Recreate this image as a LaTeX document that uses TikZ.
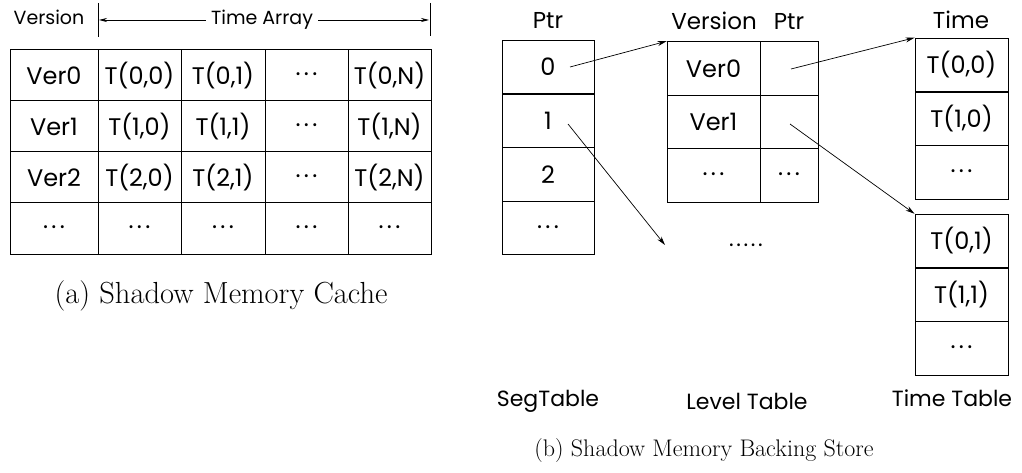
\documentclass[tikz,border=0pt]{standalone}
\usepackage{fontspec}
\setsansfont{Poppins}
\usetikzlibrary{arrows.meta}
\newcommand{\mdots}{\raisebox{0.2ex}{.\kern0.14em.\kern0.14em.}}
\tikzset{
  cell/.style={draw, line width=1pt, inner sep=0pt, font=\sffamily\fontsize{24}{28}\selectfont},
  hdr/.style={inner sep=0pt, font=\sffamily\fontsize{23}{26}\selectfont},
  smallhdr/.style={inner sep=0pt, font=\sffamily\fontsize{19}{22}\selectfont},
  lbl/.style={inner sep=0pt, font=\sffamily\fontsize{22}{26}\selectfont},
  captext/.style={inner sep=0pt, font=\fontsize{24}{28}\selectfont},
  ptr/.style={-{Stealth[length=9pt,width=5pt]}, line width=0.7pt},
}
\begin{document}
\begin{tikzpicture}[x=1pt,y=-1pt]
\useasboundingbox (0,0) rectangle (1022,473);
% ---------- (a) ----------
\node[smallhdr] (verhdr) at (49,17) {Version};
\coordinate (t1a) at (98,3); \coordinate (t1b) at (98,37);
\coordinate (t2a) at (430,3); \coordinate (t2b) at (430,36);
\draw[line width=0.8pt] (t1a) -- (t1b);
\draw[line width=0.8pt] (t2a) -- (t2b);
\node[smallhdr] (tarr) at (262,20) {Time Array};
\coordinate (al) at (99,20); \coordinate (ar) at (429,20);
\draw[ptr, -{Stealth[length=8pt,width=4pt]}] (tarr.west) ++(-5,0) coordinate (tl) -- (al);
\draw[ptr, -{Stealth[length=8pt,width=4pt]}] (tarr.east) ++(5,0) coordinate (tr) -- (ar);
% columns 10,98,181,265,348,431 ; rows 50,101,152,203,254
\foreach \r/\y/\a/\b/\c/\d/\e in {
  0/75.5/Ver0/{T(0,0)}/{T(0,1)}/\mdots/{T(0,N)},
  1/126.5/Ver1/{T(1,0)}/{T(1,1)}/\mdots/{T(1,N)},
  2/177.5/Ver2/{T(2,0)}/{T(2,1)}/\mdots/{T(2,N)},
  3/228.5/\mdots/\mdots/\mdots/\mdots/\mdots}{
  \node[cell, minimum width=88pt, minimum height=51pt] (a\r0) at (54,\y) {\a};
  \node[cell, minimum width=83pt, minimum height=51pt] (a\r1) at (139.5,\y) {\b};
  \node[cell, minimum width=84pt, minimum height=51pt] (a\r2) at (223,\y) {\c};
  \node[cell, minimum width=83pt, minimum height=51pt] (a\r3) at (306.5,\y) {\d};
  \node[cell, minimum width=83pt, minimum height=51pt] (a\r4) at (389.5,\y) {\e};
}
\node[captext, font=\fontsize{30.5}{34}\selectfont] (capa) at (221,296) {(a) Shadow Memory Cache};
% ---------- (b) ----------
% SegTable x 502-594, rows 40,94,148,201,255
\node[hdr] (segh) at (548,20) {Ptr};
\foreach \r/\y/\t in {0/67/0, 1/121/1, 2/174.5/2, 3/228/\mdots}{
  \node[cell, minimum width=92pt, minimum height=53.5pt] (s\r) at (548,\y) {\t};
}
% Level table x 667-760-818, rows 42,95,149,202
\node[hdr] (lvh1) at (714,21) {Version};
\node[hdr] (lvh2) at (789,21) {Ptr};
\foreach \r/\y/\t/\u in {0/68.5/Ver0/{}, 1/122/Ver1/{}, 2/175.5/\mdots/\mdots}{
  \node[cell, minimum width=93pt, minimum height=53.5pt] (l\r) at (713.5,\y) {\t};
  \node[cell, minimum width=58pt, minimum height=53.5pt] (p\r) at (789,\y) {\u};
}
\node[lbl, anchor=base] (ldots) at (746,246) {.\kern0.12em.\kern0.12em.\kern0.12em.\kern0.12em.};
% Time tables x 915-1008
\node[hdr] (timeh) at (961,20) {Time};
\foreach \r/\y/\t in {0/65/{T(0,0)}, 1/119/{T(1,0)}, 2/172.5/\mdots}{
  \node[cell, minimum width=93pt, minimum height=53.5pt] (ta\r) at (961.5,\y) {\t};
}
\foreach \r/\y/\t in {0/241/{T(0,1)}, 1/295/{T(1,1)}, 2/348.5/\mdots}{
  \node[cell, minimum width=93pt, minimum height=53.5pt] (tb\r) at (961.5,\y) {\t};
}
% pointers
\coordinate (s0p) at (570,67); \coordinate (s1p) at (568,124);
\coordinate (p0p) at (791,69); \coordinate (p1p) at (790,124);
\coordinate (dotsend) at (665,245);
\draw[ptr] (s0p) -- (l0.north west);
\draw[ptr] (s1p) -- (dotsend);
\draw[ptr] (p0p) -- (ta0.north west);
\draw[ptr] (p1p) -- (tb0.north west);
% labels
\node[lbl] (segl) at (548,401) {SegTable};
\node[lbl] (lvl) at (747,401) {Level Table};
\node[lbl] (ttl) at (952,398) {Time Table};
\node[captext] (capb) at (704,451) {(b) Shadow Memory Backing Store};
\end{tikzpicture}
\end{document}
